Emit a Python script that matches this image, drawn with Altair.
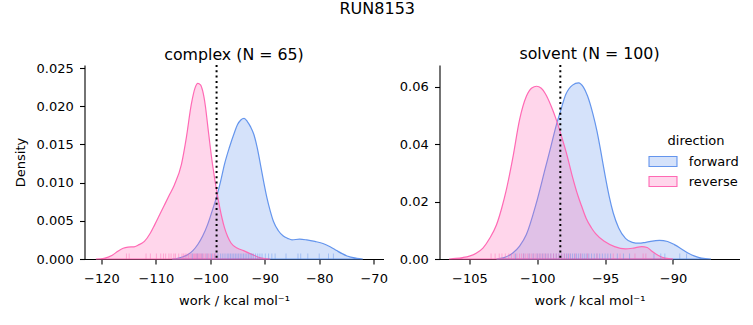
import altair as alt
import pandas as pd

FONT = "DejaVu Sans"
DIRECTIONS = ["forward", "reverse"]
LINE_COLORS = ["#6495ED", "#FF69B4"]
FILL_COLORS = ["rgba(100,149,237,0.27)", "rgba(255,105,180,0.27)"]

# ---- complex: density curves ----
cx_fwd_x = [-107.0, -106.0, -105.0, -104.1, -103.2, -102.3, -101.4, -100.5, -99.7, -98.9,
            -98.1, -97.4, -96.5, -95.6, -95.0, -94.4, -93.8, -93.2, -92.6, -92.0,
            -91.4, -90.8, -90.2, -89.6, -89.0, -88.4, -87.5, -86.6, -85.8, -85.0,
            -83.6, -82.3, -80.8, -79.2, -78.0, -76.8, -75.8, -74.9, -73.1, -72.0]
cx_fwd_d = [0.0, 0.0001, 0.0003, 0.0006, 0.0011, 0.0019, 0.0030, 0.0045, 0.0062, 0.0080,
            0.0102, 0.0124, 0.0146, 0.0165, 0.0176, 0.0182, 0.0184, 0.0180, 0.0173, 0.0163,
            0.0146, 0.0124, 0.0101, 0.0080, 0.0063, 0.0049, 0.0037, 0.0030, 0.0027, 0.0025,
            0.0026, 0.0025, 0.0023, 0.0020, 0.0016, 0.0011, 0.0007, 0.0004, 0.0001, 0.0]
cx_rev_x = [-121.0, -119.5, -118.0, -117.0, -116.0, -115.1, -114.0, -113.3, -112.1, -111.0,
            -110.2, -109.3, -108.4, -107.5, -106.6, -105.3, -104.4, -103.5, -102.8, -102.3,
            -101.8, -101.4, -100.9, -100.5, -99.6, -98.6, -97.9, -97.4, -96.8, -96.2,
            -95.0, -93.9, -93.0, -92.0, -91.0, -90.0, -89.0]
cx_rev_d = [0.0, 0.0001, 0.0005, 0.0010, 0.0014, 0.00155, 0.0016, 0.0018, 0.0023, 0.0034,
            0.0045, 0.0058, 0.0071, 0.0084, 0.0097, 0.0124, 0.0159, 0.0202, 0.0224, 0.0230,
            0.0228, 0.0220, 0.0200, 0.0176, 0.0124, 0.0080, 0.0055, 0.0041, 0.0029, 0.0021,
            0.0014, 0.0011, 0.0008, 0.0005, 0.0002, 0.00005, 0.0]

# ---- solvent: density curves ----
sv_fwd_x = [-103.0, -102.5, -101.8, -101.3, -100.8, -100.1, -99.4, -99.0, -98.6, -98.3,
            -97.9, -97.4, -96.96, -96.6, -96.3, -95.9, -95.6, -95.3, -95.0, -94.7,
            -94.4, -94.0, -93.5, -93.0, -92.5, -92.0, -91.0, -90.4, -89.9, -89.4,
            -88.9, -88.4, -87.9, -87.2]
sv_fwd_d = [0.0, 0.0004, 0.0021, 0.0045, 0.0085, 0.0189, 0.0317, 0.0390, 0.0465, 0.0512,
            0.0572, 0.0605, 0.0613, 0.0598, 0.0568, 0.0505, 0.0445, 0.0370, 0.0290, 0.0218,
            0.0160, 0.0108, 0.0072, 0.0058, 0.0055, 0.0058, 0.0065, 0.0061, 0.0050, 0.0036,
            0.0021, 0.0010, 0.0003, 0.0]
sv_rev_x = [-106.5, -106.0, -105.5, -105.0, -104.5, -104.0, -103.5, -103.0, -102.6, -102.3,
            -101.8, -101.3, -100.8, -100.4, -100.05, -99.7, -99.4, -99.0, -98.6, -98.2,
            -97.8, -97.4, -97.0, -96.7, -96.4, -96.0, -95.7, -95.0, -94.3, -93.5,
            -92.9, -92.3, -91.9, -91.6, -91.2, -90.8, -90.3, -90.0]
sv_rev_d = [0.0, 0.0002, 0.0005, 0.0010, 0.0020, 0.0038, 0.0072, 0.0119, 0.0180, 0.0236,
            0.0352, 0.0485, 0.0566, 0.0595, 0.0601, 0.0594, 0.0575, 0.0535, 0.0485, 0.0425,
            0.0360, 0.0285, 0.0220, 0.0180, 0.0142, 0.0108, 0.0088, 0.0060, 0.0043, 0.0035,
            0.0038, 0.0043, 0.0040, 0.0029, 0.0016, 0.0006, 0.0001, 0.0]

# ---- rug: individual work values ----
cx_fwd_rug = [-103.3, -102.4, -101.5, -100.6, -99.8, -99.2, -98.6, -98.1, -97.7, -97.3,
              -96.9, -96.6, -96.3, -96.0, -95.7, -95.4, -95.1, -94.8, -94.5, -94.2,
              -93.9, -93.6, -93.3, -93.0, -92.7, -92.4, -92.1, -91.7, -91.3, -90.9,
              -90.5, -89.9, -89.3, -88.7, -88.1, -86.1, -83.9, -83.4, -82.1, -80.0,
              -78.3, -77.4]
cx_rev_rug = [-115.4, -114.9, -111.8, -111.0, -109.9, -109.1, -108.6, -108.2, -107.6, -107.2,
              -106.7, -106.4, -105.8, -105.2, -104.9, -104.6, -104.3, -104.0, -103.7, -103.4,
              -103.1, -102.9, -102.7, -102.5, -102.3, -102.1, -101.9, -101.7, -101.5, -101.2,
              -100.9, -100.6, -100.3, -100.0, -99.6, -99.3, -99.0]
sv_fwd_rug = [-101.6, -101.0, -100.6, -100.3, -100.0, -99.8, -99.6, -99.4, -99.2, -99.0,
              -98.8, -98.6, -98.4, -98.2, -98.0, -97.85, -97.7, -97.55, -97.4, -97.25,
              -97.1, -96.95, -96.8, -96.65, -96.5, -96.35, -96.2, -96.0, -95.8, -95.6,
              -95.4, -95.2, -95.0, -94.8, -94.6, -94.1, -93.65, -93.2, -91.4, -90.9,
              -90.6, -89.5, -89.0]
sv_rev_rug = [-103.4, -103.1, -102.8, -102.6, -102.35, -102.1, -101.9, -101.7, -101.5, -101.3,
              -101.15, -101.0, -100.85, -100.7, -100.55, -100.4, -100.25, -100.1, -99.95, -99.8,
              -99.65, -99.5, -99.35, -99.2, -99.0, -98.8, -98.6, -98.4, -98.2, -98.0,
              -97.8, -97.6, -97.2, -96.8, -96.3, -95.6, -94.4, -93.9, -92.8, -92.2,
              -92.0]

# dotted reference lines
cx_vline = [-98.85]
sv_vline = [-98.3]

# axes
cx_xdomain = [-123.1, -68.2]
cx_xticks = [-120, -110, -100, -90, -80, -70]
cx_ydomain = [0, 0.0254]
cx_yticks = [0, 0.005, 0.010, 0.015, 0.020, 0.025]
sv_xdomain = [-107.2, -85.1]
sv_xticks = [-105, -100, -95, -90]
sv_ydomain = [0, 0.0675]
sv_yticks = [0, 0.02, 0.04, 0.06]


def curves(fx, fd, rx, rd):
    a = pd.DataFrame({"work": fx, "density": fd, "direction": "forward"})
    b = pd.DataFrame({"work": rx, "density": rd, "direction": "reverse"})
    return pd.concat([a, b], ignore_index=True)


def rugs(f, r):
    a = pd.DataFrame({"work": f, "direction": "forward"})
    b = pd.DataFrame({"work": r, "direction": "reverse"})
    return pd.concat([a, b], ignore_index=True)


legend = alt.Legend(
    title="direction", orient="none", legendX=568.5, legendY=69.5,
    symbolType="M-1.48,-0.53H1.48V0.53H-1.48Z", symbolSize=357, symbolStrokeWidth=1.1,
    labelOffset=15.8, rowPadding=2, titlePadding=4,
    titleFont=FONT, titleFontSize=13, titleFontWeight="normal", titleColor="black",
    titleAnchor="middle", labelFont=FONT, labelFontSize=13, labelColor="black",
)
fill_scale = alt.Scale(domain=DIRECTIONS, range=FILL_COLORS)
stroke_scale = alt.Scale(domain=DIRECTIONS, range=LINE_COLORS)

H = 194


def panel(cdf, rdf, vline, xdom, xt, ydom, yt, yfmt, ytitle, title, toff, width):
    xenc = alt.X("work:Q", scale=alt.Scale(domain=xdom, nice=False, zero=False),
                 axis=alt.Axis(values=xt, format="d", title="work / kcal mol⁻¹"))
    area = alt.Chart(cdf).mark_area(strokeWidth=1.2, interpolate="monotone").encode(
        x=xenc,
        y=alt.Y("density:Q", stack=None, scale=alt.Scale(domain=ydom, nice=False),
                axis=alt.Axis(values=yt, format=yfmt, title=ytitle)),
        fill=alt.Fill("direction:N", scale=fill_scale, legend=legend),
        stroke=alt.Stroke("direction:N", scale=stroke_scale, legend=legend),
    )
    rug = alt.Chart(rdf).mark_rule(strokeWidth=1, strokeOpacity=0.45).encode(
        x="work:Q",
        y=alt.value(H - 5.5),
        y2=alt.value(H),
        stroke=alt.Stroke("direction:N", scale=stroke_scale, legend=legend),
    )
    vl = alt.Chart(pd.DataFrame({"work": vline})).mark_rule(
        color="black", strokeWidth=2, strokeDash=[2, 3.3]
    ).encode(x="work:Q")
    return alt.layer(area, rug, vl).properties(
        width=width, height=H,
        title=alt.TitleParams(title, font=FONT, fontSize=15.8, fontWeight="normal",
                              color="black", anchor="middle", frame="group",
                              baseline="alphabetic", offset=toff),
    )


left = panel(curves(cx_fwd_x, cx_fwd_d, cx_rev_x, cx_rev_d), rugs(cx_fwd_rug, cx_rev_rug),
             cx_vline, cx_xdomain, cx_xticks, cx_ydomain, cx_yticks, ".3f", "Density",
             "complex (N = 65)", -14.0, 299)
right = panel(curves(sv_fwd_x, sv_fwd_d, sv_rev_x, sv_rev_d), rugs(sv_fwd_rug, sv_rev_rug),
              sv_vline, sv_xdomain, sv_xticks, sv_ydomain, sv_yticks, ".2f", None,
              "solvent (N = 100)", -10.8, 300)

chart = alt.hconcat(left, right, spacing=56, bounds="flush").properties(
    title=alt.TitleParams("RUN8153", font=FONT, fontSize=16, fontWeight="normal",
                          color="black", anchor="middle", baseline="alphabetic", offset=16.3),
    padding={"left": 14.5, "top": 0, "right": 5, "bottom": 5},
    background="white",
).configure_view(stroke=None).configure_axis(
    grid=False, domainColor="black", tickColor="black", labelColor="black",
    titleColor="black", domainWidth=1.1, tickWidth=1.1, tickSize=5,
    labelFont=FONT, labelFontSize=13, titleFont=FONT, titleFontSize=13,
    titleFontWeight="normal", zindex=1,
).configure_axisY(labelPadding=6.3, titlePadding=8).configure_axisX(
    labelPadding=8, titlePadding=9
)

chart.save("out.html", embed_options={"renderer": "svg", "actions": False})
